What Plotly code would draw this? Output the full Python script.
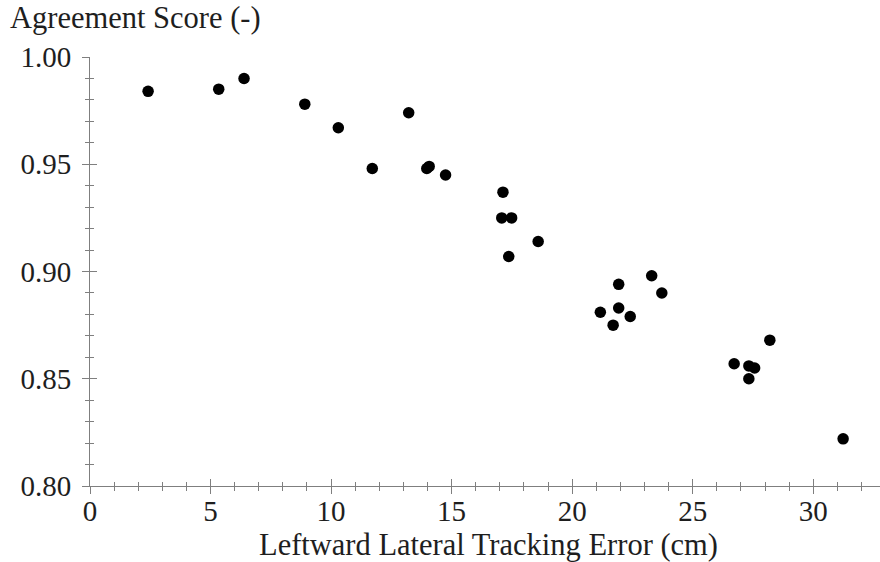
import plotly.graph_objects as go

# Leftward lateral tracking error (cm) vs. agreement score
tracking_error_cm = [
    2.41, 5.34, 6.39, 8.91, 10.30, 11.71, 13.22, 13.97, 14.07, 14.75,
    17.13, 17.08, 17.49, 17.37, 18.59, 21.17, 21.93, 21.93, 21.70, 22.41,
    23.30, 23.72, 26.72, 27.33, 27.57, 27.33, 28.20, 31.24,
]
agreement_score = [
    0.984, 0.985, 0.990, 0.978, 0.967, 0.948, 0.974, 0.948, 0.949, 0.945,
    0.937, 0.925, 0.925, 0.907, 0.914, 0.881, 0.894, 0.883, 0.875, 0.879,
    0.898, 0.890, 0.857, 0.856, 0.855, 0.850, 0.868, 0.822,
]

x_ticks = [0, 5, 10, 15, 20, 25, 30]
y_ticks = [0.80, 0.85, 0.90, 0.95, 1.00]
y_tick_text = ["0.80", "0.85", "0.90", "0.95", "1.00"]

x_title = "Leftward Lateral Tracking Error (cm)"
y_title = "Agreement Score (-)"

FONT = "Liberation Serif, Times New Roman, serif"
AXIS_GREY = "#7f7f7f"
TEXT = "#1e1e1e"
TICK_SIZE = 29
TITLE_SIZE = 30.5

fig = go.Figure()
fig.add_trace(go.Scatter(
    x=tracking_error_cm, y=agreement_score, mode="markers",
    marker=dict(size=11.5, color="black", line=dict(width=0)),
    showlegend=False, hoverinfo="x+y",
))
# invisible trace so the mirrored tick axes get drawn
fig.add_trace(go.Scatter(x=[None], y=[None], xaxis="x2", yaxis="y2",
                         showlegend=False, hoverinfo="skip"))

x_common = dict(range=[0, 32.77], tickvals=x_ticks, showgrid=False, zeroline=False,
                tickcolor=AXIS_GREY, ticklen=7, tickwidth=1)
y_common = dict(range=[0.80, 1.00], tickvals=y_ticks, showgrid=False, zeroline=False,
                tickcolor=AXIS_GREY, ticklen=7, tickwidth=1)

fig.update_layout(
    width=880, height=562,
    margin=dict(l=90, r=0, t=57, b=76),
    paper_bgcolor="white", plot_bgcolor="white",
    font=dict(family=FONT, color=TEXT, size=TICK_SIZE),
    xaxis=dict(**x_common, ticks="outside", showline=True, linecolor=AXIS_GREY,
               linewidth=1, ticklabelstandoff=-8,
               tickfont=dict(family=FONT, size=TICK_SIZE, color=TEXT),
               minor=dict(ticks="outside", ticklen=4, dtick=1, tickcolor=AXIS_GREY)),
    yaxis=dict(**y_common, ticks="outside", showline=True, linecolor=AXIS_GREY,
               linewidth=1, ticktext=y_tick_text, ticklabelstandoff=5,
               tickfont=dict(family=FONT, size=TICK_SIZE, color=TEXT),
               minor=dict(ticks="outside", ticklen=4, dtick=0.01, tickcolor=AXIS_GREY)),
    xaxis2=dict(**x_common, overlaying="x", anchor="y2", ticks="inside",
                showticklabels=False, showline=False,
                minor=dict(ticks="inside", ticklen=4, dtick=1, tickcolor=AXIS_GREY)),
    yaxis2=dict(**y_common, overlaying="y", anchor="x2", side="left", ticks="inside",
                showticklabels=False, showline=False,
                minor=dict(ticks="inside", ticklen=4, dtick=0.01, tickcolor=AXIS_GREY)),
    annotations=[
        dict(text=y_title, xref="paper", yref="paper", x=-82 / 790, y=1 + 39 / 429,
             xanchor="left", yanchor="middle", showarrow=False,
             font=dict(family=FONT, size=TITLE_SIZE, color=TEXT)),
        dict(text=x_title, xref="paper", yref="paper", x=398 / 790, y=-59 / 429,
             xanchor="center", yanchor="middle", showarrow=False,
             font=dict(family=FONT, size=TITLE_SIZE, color=TEXT)),
    ],
)

fig.write_html("out.html")
